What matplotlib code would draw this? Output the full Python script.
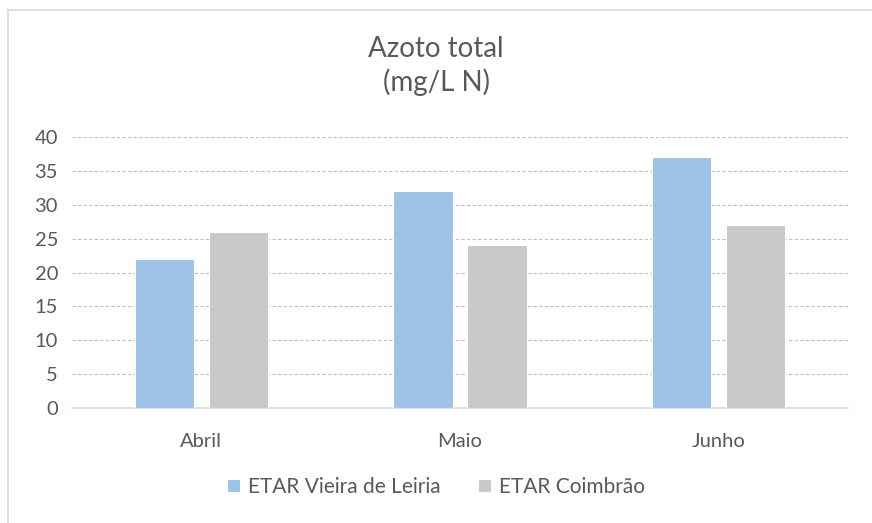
import numpy as np
import matplotlib.pyplot as plt
from matplotlib.lines import Line2D

plt.rcParams['font.family'] = ['Lato', 'DejaVu Sans']

meses = ['Abril', 'Maio', 'Junho']
vieira = [22, 32, 37]
coimbrao = [26, 24, 27]

W, H = 872, 523
fig = plt.figure(figsize=(W / 100, H / 100), dpi=100)
ax = fig.add_axes([72/W, 1-408/H, (848-72)/W, (408-137)/H])

x = np.arange(len(meses))
w = 0.23
ax.bar(x - 0.143, vieira, w, color='#9DC3E6', edgecolor='white', linewidth=0.8,
       label='ETAR Vieira de Leiria', zorder=3)
ax.bar(x + 0.143, coimbrao, w, color='#C9C9C9', edgecolor='white', linewidth=0.8,
       label='ETAR Coimbrão', zorder=3)

ax.set_xlim(-0.5, 2.5)
ax.set_ylim(0, 40)
ax.set_yticks(range(0, 41, 5))
ax.set_xticks(x)
ax.set_xticklabels(meses)
ax.yaxis.grid(True, linestyle=(0, (3, 2)), color='#BFBFBF', linewidth=0.8, zorder=0)
for s in ['top', 'right', 'left']:
    ax.spines[s].set_visible(False)
ax.spines['bottom'].set_color('#D9D9D9')
ax.spines['bottom'].set_linewidth(1.2)
ax.tick_params(axis='both', length=0, labelsize=14.5, colors='#595959')
ax.tick_params(axis='y', pad=10)
ax.tick_params(axis='x', pad=18)

fig.text(0.5, 1-66/H, 'Azoto total\n(mg/L N)', ha='center', va='center',
         fontsize=20, color='#595959', linespacing=1.25)

leg = fig.legend(loc='center', bbox_to_anchor=(0.5, 1-487/H), ncol=2,
                 frameon=False, fontsize=15, handlelength=0.6, handleheight=0.6,
                 handletextpad=0.4, columnspacing=1.8)
for t in leg.get_texts():
    t.set_color('#595959')

# chart frame (cut off at right and bottom)
fig.add_artist(Line2D([8/W, 1], [1-10/H, 1-10/H], transform=fig.transFigure,
                      color='#D9D9D9', linewidth=1.2))
fig.add_artist(Line2D([8/W, 8/W], [0, 1-10/H], transform=fig.transFigure,
                      color='#D9D9D9', linewidth=1.2))

fig.savefig('out.png', dpi=100)
